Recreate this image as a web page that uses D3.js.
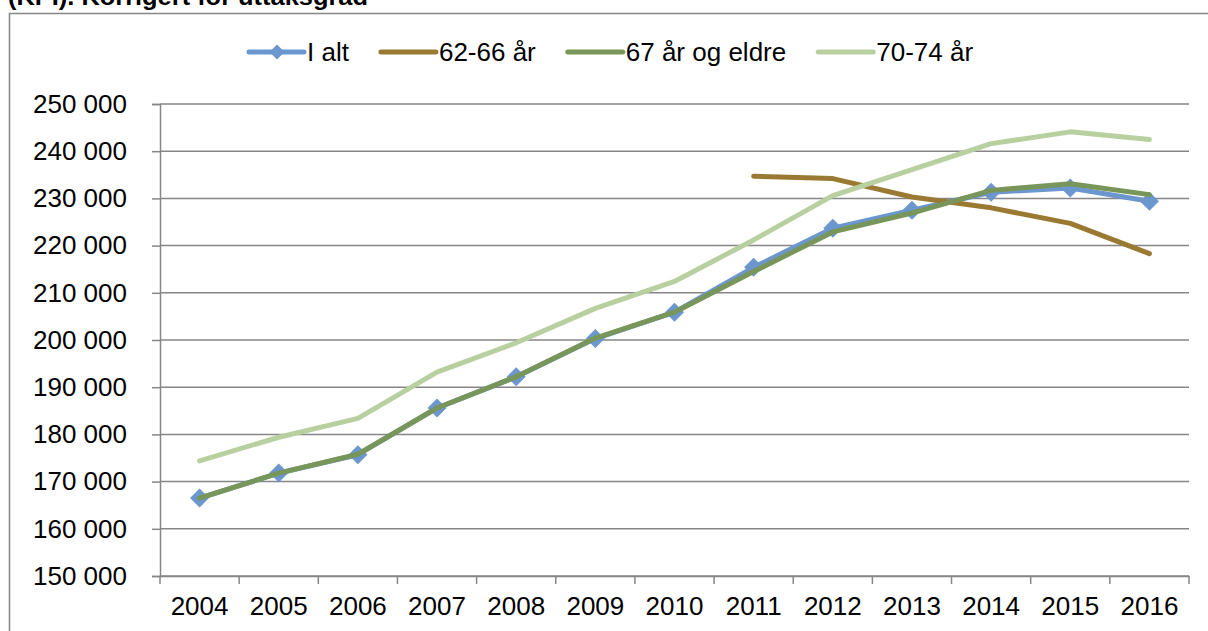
<!DOCTYPE html>
<html lang="no">
<head>
<meta charset="UTF-8">
<title>KPI</title>
<script src="https://cdn.jsdelivr.net/npm/d3@7"></script>
<style>
  body { margin: 0; background: #fff; }
  text { font-family: "Liberation Sans", Arial, sans-serif; fill: #000; }
</style>
</head>
<body>
<div id="chart"></div>
<script>
// data
var years = [2004, 2005, 2006, 2007, 2008, 2009, 2010, 2011, 2012, 2013, 2014, 2015, 2016];
var iAlt    = [166500, 171800, 175700, 185600, 192200, 200300, 205900, 215400, 223700, 227500, 231300, 232200, 229400];
var ar6266  = [null, null, null, null, null, null, null, 234700, 234200, 230300, 228000, 224700, 218300];
var ar67    = [166500, 171800, 175800, 185600, 192200, 200400, 205900, 214500, 222900, 226900, 231700, 233100, 230800];
var ar7074  = [174400, 179400, 183400, 193200, 199400, 206700, 212400, 221200, 230600, 236100, 241600, 244100, 242500];
var yTicks  = [150000, 160000, 170000, 180000, 190000, 200000, 210000, 220000, 230000, 240000, 250000];

var series = [
  { name: "I alt", values: iAlt, color: "#6B96CE", marker: true },
  { name: "62-66 år", values: ar6266, color: "#9A7A33", marker: false },
  { name: "67 år og eldre", values: ar67, color: "#789659", marker: false },
  { name: "70-74 år", values: ar7074, color: "#B8CFA0", marker: false }
];

var width = 1208, height = 631;
var plotLeft = 160, plotRight = 1189, plotTop = 104, plotBottom = 576;

var svg = d3.select("#chart").append("svg")
    .attr("width", width)
    .attr("height", height);

// title, cut off at the top like the original
svg.append("text")
    .attr("x", 8)
    .attr("y", 5)
    .attr("font-size", 23)
    .attr("font-weight", "bold")
    .attr("textLength", 360)
    .attr("lengthAdjust", "spacingAndGlyphs")
    .text("(KPI). Korrigert for uttaksgrad");

// chart frame
svg.append("path")
    .attr("d", "M9.5," + (height + 2) + "V13.5H" + (width + 2))
    .attr("fill", "none")
    .attr("stroke", "#868686")
    .attr("stroke-width", 1.5);

var x = d3.scaleBand().domain(years).range([plotLeft, plotRight]);
var y = d3.scaleLinear().domain([150000, 250000]).range([plotBottom, plotTop]);

var nb = d3.formatLocale({ decimal: ",", thousands: " ", grouping: [3], currency: ["", ""] });
var fmt = nb.format(",");

// gridlines
svg.append("g").selectAll("line")
    .data(yTicks)
    .enter().append("line")
    .attr("x1", plotLeft)
    .attr("x2", plotRight)
    .attr("y1", function (d) { return y(d); })
    .attr("y2", function (d) { return y(d); })
    .attr("stroke", "#868686")
    .attr("stroke-width", 1.5);

// y axis
var yAxis = d3.axisLeft(y).tickValues(yTicks).tickFormat(fmt).tickSize(8).tickPadding(25);
var gy = svg.append("g")
    .attr("transform", "translate(" + plotLeft + ",0)")
    .call(yAxis);

// x axis: labels centred in the bands, ticks on the band edges
var xAxis = d3.axisBottom(x).tickSize(0).tickPadding(21);
var gx = svg.append("g")
    .attr("transform", "translate(0," + plotBottom + ")")
    .call(xAxis);
gx.selectAll(".xedge")
    .data(years.map(function (d) { return x(d); }).concat([plotRight]))
    .enter().append("line")
    .attr("x1", function (d) { return d; })
    .attr("x2", function (d) { return d; })
    .attr("y1", 0)
    .attr("y2", 8)
    .attr("stroke", "#868686")
    .attr("stroke-width", 1.5);

[gx, gy].forEach(function (g) {
  g.selectAll(".domain").attr("stroke", "#868686").attr("stroke-width", 1.5);
  g.selectAll(".tick line").attr("stroke", "#868686").attr("stroke-width", 1.5);
  g.selectAll("text").attr("font-size", 26).attr("font-family", "Liberation Sans, Arial, sans-serif").attr("fill", "#000");
});

var cx = function (i) { return x(years[i]) + x.bandwidth() / 2; };

var line = d3.line()
    .defined(function (d) { return d != null; })
    .x(function (d, i) { return cx(i); })
    .y(function (d) { return y(d); });

var diamond = function (s) { return "M0,-" + s + "L" + s + ",0L0," + s + "L-" + s + ",0Z"; };

series.forEach(function (s) {
  svg.append("path")
      .attr("d", line(s.values))
      .attr("fill", "none")
      .attr("stroke", s.color)
      .attr("stroke-width", 5)
      .attr("stroke-linejoin", "round")
      .attr("stroke-linecap", "round");
  if (s.marker) {
    svg.append("g").selectAll("path")
        .data(s.values)
        .enter().append("path")
        .attr("transform", function (d, i) { return "translate(" + cx(i) + "," + y(d) + ")"; })
        .attr("d", diamond(9.5))
        .attr("fill", s.color);
  }
});

// legend
var lx = 249, ly = 52;
series.forEach(function (s) {
  var g = svg.append("g").attr("transform", "translate(" + lx + "," + ly + ")");
  g.append("line")
      .attr("x1", 0).attr("x2", 55)
      .attr("stroke", s.color)
      .attr("stroke-width", 5)
      .attr("stroke-linecap", "round");
  if (s.marker) {
    g.append("path").attr("transform", "translate(28,0)").attr("d", diamond(7.5)).attr("fill", s.color);
  }
  var t = g.append("text")
      .attr("x", 58)
      .attr("dy", "0.35em")
      .attr("font-size", 26)
      .text(s.name);
  lx += 58 + t.node().getComputedTextLength() + 32;
});
</script>
</body>
</html>
